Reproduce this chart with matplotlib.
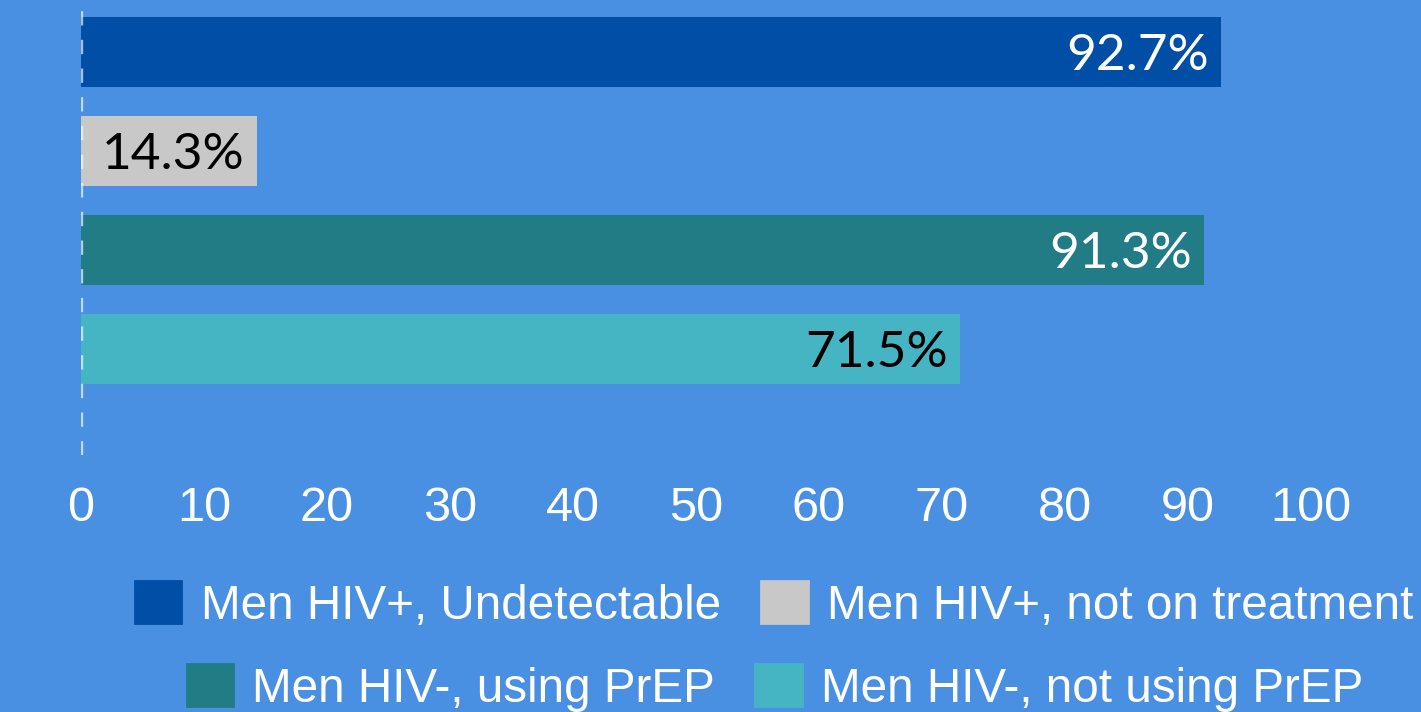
import matplotlib.pyplot as plt
from matplotlib.patches import Patch

categories = ['Men HIV+, Undetectable', 'Men HIV+, not on treatment',
              'Men HIV-, using PrEP', 'Men HIV-, not using PrEP']
values = [92.7, 14.3, 91.3, 71.5]
bar_colors = ['#004EA6', '#C8C8C8', '#217C85', '#45B5C4']
text_colors = ['white', 'black', 'white', 'black']
x_ticks = [0, 10, 20, 30, 40, 50, 60, 70, 80, 90, 100]

bg = '#4A90E2'

fig = plt.figure(figsize=(14.21, 7.12), dpi=100, facecolor=bg)
ax = fig.add_axes([81 / 1421, 1 - 455 / 712, 1230 / 1421, 455 / 712])
ax.set_facecolor(bg)

y = list(range(len(values)))
ax.barh(y, values, height=0.707, color=bar_colors, zorder=2)

# value labels inside the bar end
for yi, v, tc in zip(y, values, text_colors):
    ax.text(v - 1.0, yi + 0.04, f'{v}%', ha='right', va='center',
            color=tc, fontsize=37, family='Lato', zorder=4)

# dashed zero line
ax.axvline(0, color='white', alpha=0.65, lw=2.4, ls=(0, (4.3, 4.3)), zorder=3)

ax.set_xlim(0, 100)
ax.set_ylim(3 + 1.07, -0.525)
ax.set_xticks(x_ticks)
ax.set_xticklabels([str(t) for t in x_ticks], color='white', fontsize=35,
                   family='Liberation Sans')
ax.tick_params(axis='x', length=0, pad=22)
ax.set_yticks([])
for s in ax.spines.values():
    s.set_visible(False)

handles = [Patch(facecolor=c, edgecolor=c, linewidth=2, joinstyle='round') for c in bar_colors]
leg_kw = dict(ncol=2, frameon=False, labelcolor='white',
              handlelength=0.98, handleheight=0.98, handletextpad=0.4,
              columnspacing=0.85, borderpad=0, borderaxespad=0,
              prop={'family': 'Liberation Sans', 'size': 34.3})
fig.legend(handles[:2], categories[:2], loc='center',
           bbox_to_anchor=(774 / 1421, 1 - 605 / 712), **leg_kw)
fig.legend(handles[2:], categories[2:], loc='center',
           bbox_to_anchor=(775 / 1421, 1 - 688 / 712), **leg_kw)

fig.savefig('out.png', dpi=100, facecolor=bg)
